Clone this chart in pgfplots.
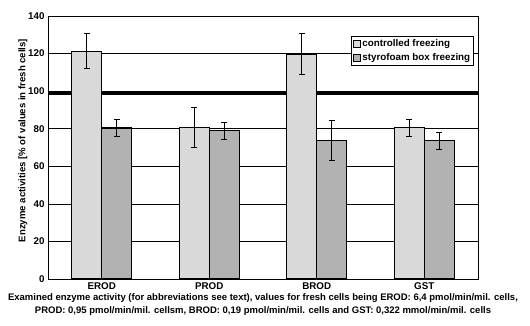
\documentclass[border=0pt]{standalone}
\usepackage{pgfplots}
\pgfplotsset{compat=1.18}
\usepackage{fontspec}
\setmainfont{Liberation Sans}
\definecolor{lightbar}{HTML}{D9D9D9}
\definecolor{darkbar}{HTML}{B2B2B2}
\begin{document}
\begin{tikzpicture}[x=1pt,y=1pt]
\begin{axis}[
  set layers=standard,
  scale only axis,
  width=430pt, height=263pt,
  ymin=0, ymax=140,
  ytick={0,20,...,140},
  xmin=-0.5, xmax=3.5,
  xtick={0,1,2,3},
  xticklabels={EROD,PROD,BROD,GST},
  major tick length=0pt,
  ymajorgrids,
  grid style={black, line width=0.7pt},
  axis line style={black, line width=0.8pt},
  tick label style={font=\fontsize{9.8}{11}\selectfont\bfseries},
  /pgf/number format/assume math mode=true,
  ybar=0pt,
  bar width=30pt,
  cycle list={{draw=black, fill=lightbar, line width=1.2pt},{draw=black, fill=darkbar, line width=1.2pt}},
  xlabel={Examined enzyme activity (for abbreviations see text), values for fresh cells being EROD: 6,4 pmol/min/mil. cells,\\PROD: 0,95 pmol/min/mil. cellsm, BROD: 0,19 pmol/min/mil. cells and GST: 0,322 mmol/min/mil. cells},
  xlabel style={font=\fontsize{9.5}{13}\selectfont\bfseries, align=center, yshift=3pt},
  ylabel={Enzyme activities [\% of values in fresh cells]},
  ylabel style={font=\fontsize{9.6}{11}\selectfont\bfseries, yshift=-6pt, xshift=7pt},
  legend style={at={(0.991,0.924)}, anchor=north east, draw=black, line width=0.8pt,
    font=\fontsize{9.8}{11}\selectfont\bfseries, row sep=1pt, inner sep=1.5pt, cells={anchor=west}},
  legend image code/.code={\draw[#1, line width=0.7pt] (0pt,-3.5pt) rectangle (7pt,3.5pt);},
  error bars/error bar style={black, line width=0.8pt},
  error bars/error mark options={rotate=90, mark size=3pt, line width=0.8pt, black},
]
\addplot+[draw=black, error bars/.cd, y dir=both, y explicit] coordinates {
  (0,121.3) +- (0,9.2)
  (1,80.6) +- (0,10.8)
  (2,119.8) +- (0,10.9)
  (3,80.5) +- (0,4.6)
};
\addplot+[draw=black, error bars/.cd, y dir=both, y explicit] coordinates {
  (0,80.4) +- (0,4.5)
  (1,78.9) +- (0,4.5)
  (2,73.7) +- (0,10.8)
  (3,73.6) +- (0,4.6)
};
\legend{controlled freezing, styrofoam box freezing}
\begin{pgfonlayer}{axis grid}
\draw[black, line width=3pt] (axis cs:-0.5,98.5) -- (axis cs:3.5,98.5);
\end{pgfonlayer}
\end{axis}
\pgfresetboundingbox
\path (current axis.south west) ++(-48pt,-46pt) rectangle ++(530pt,325pt);
\end{tikzpicture}
\end{document}
